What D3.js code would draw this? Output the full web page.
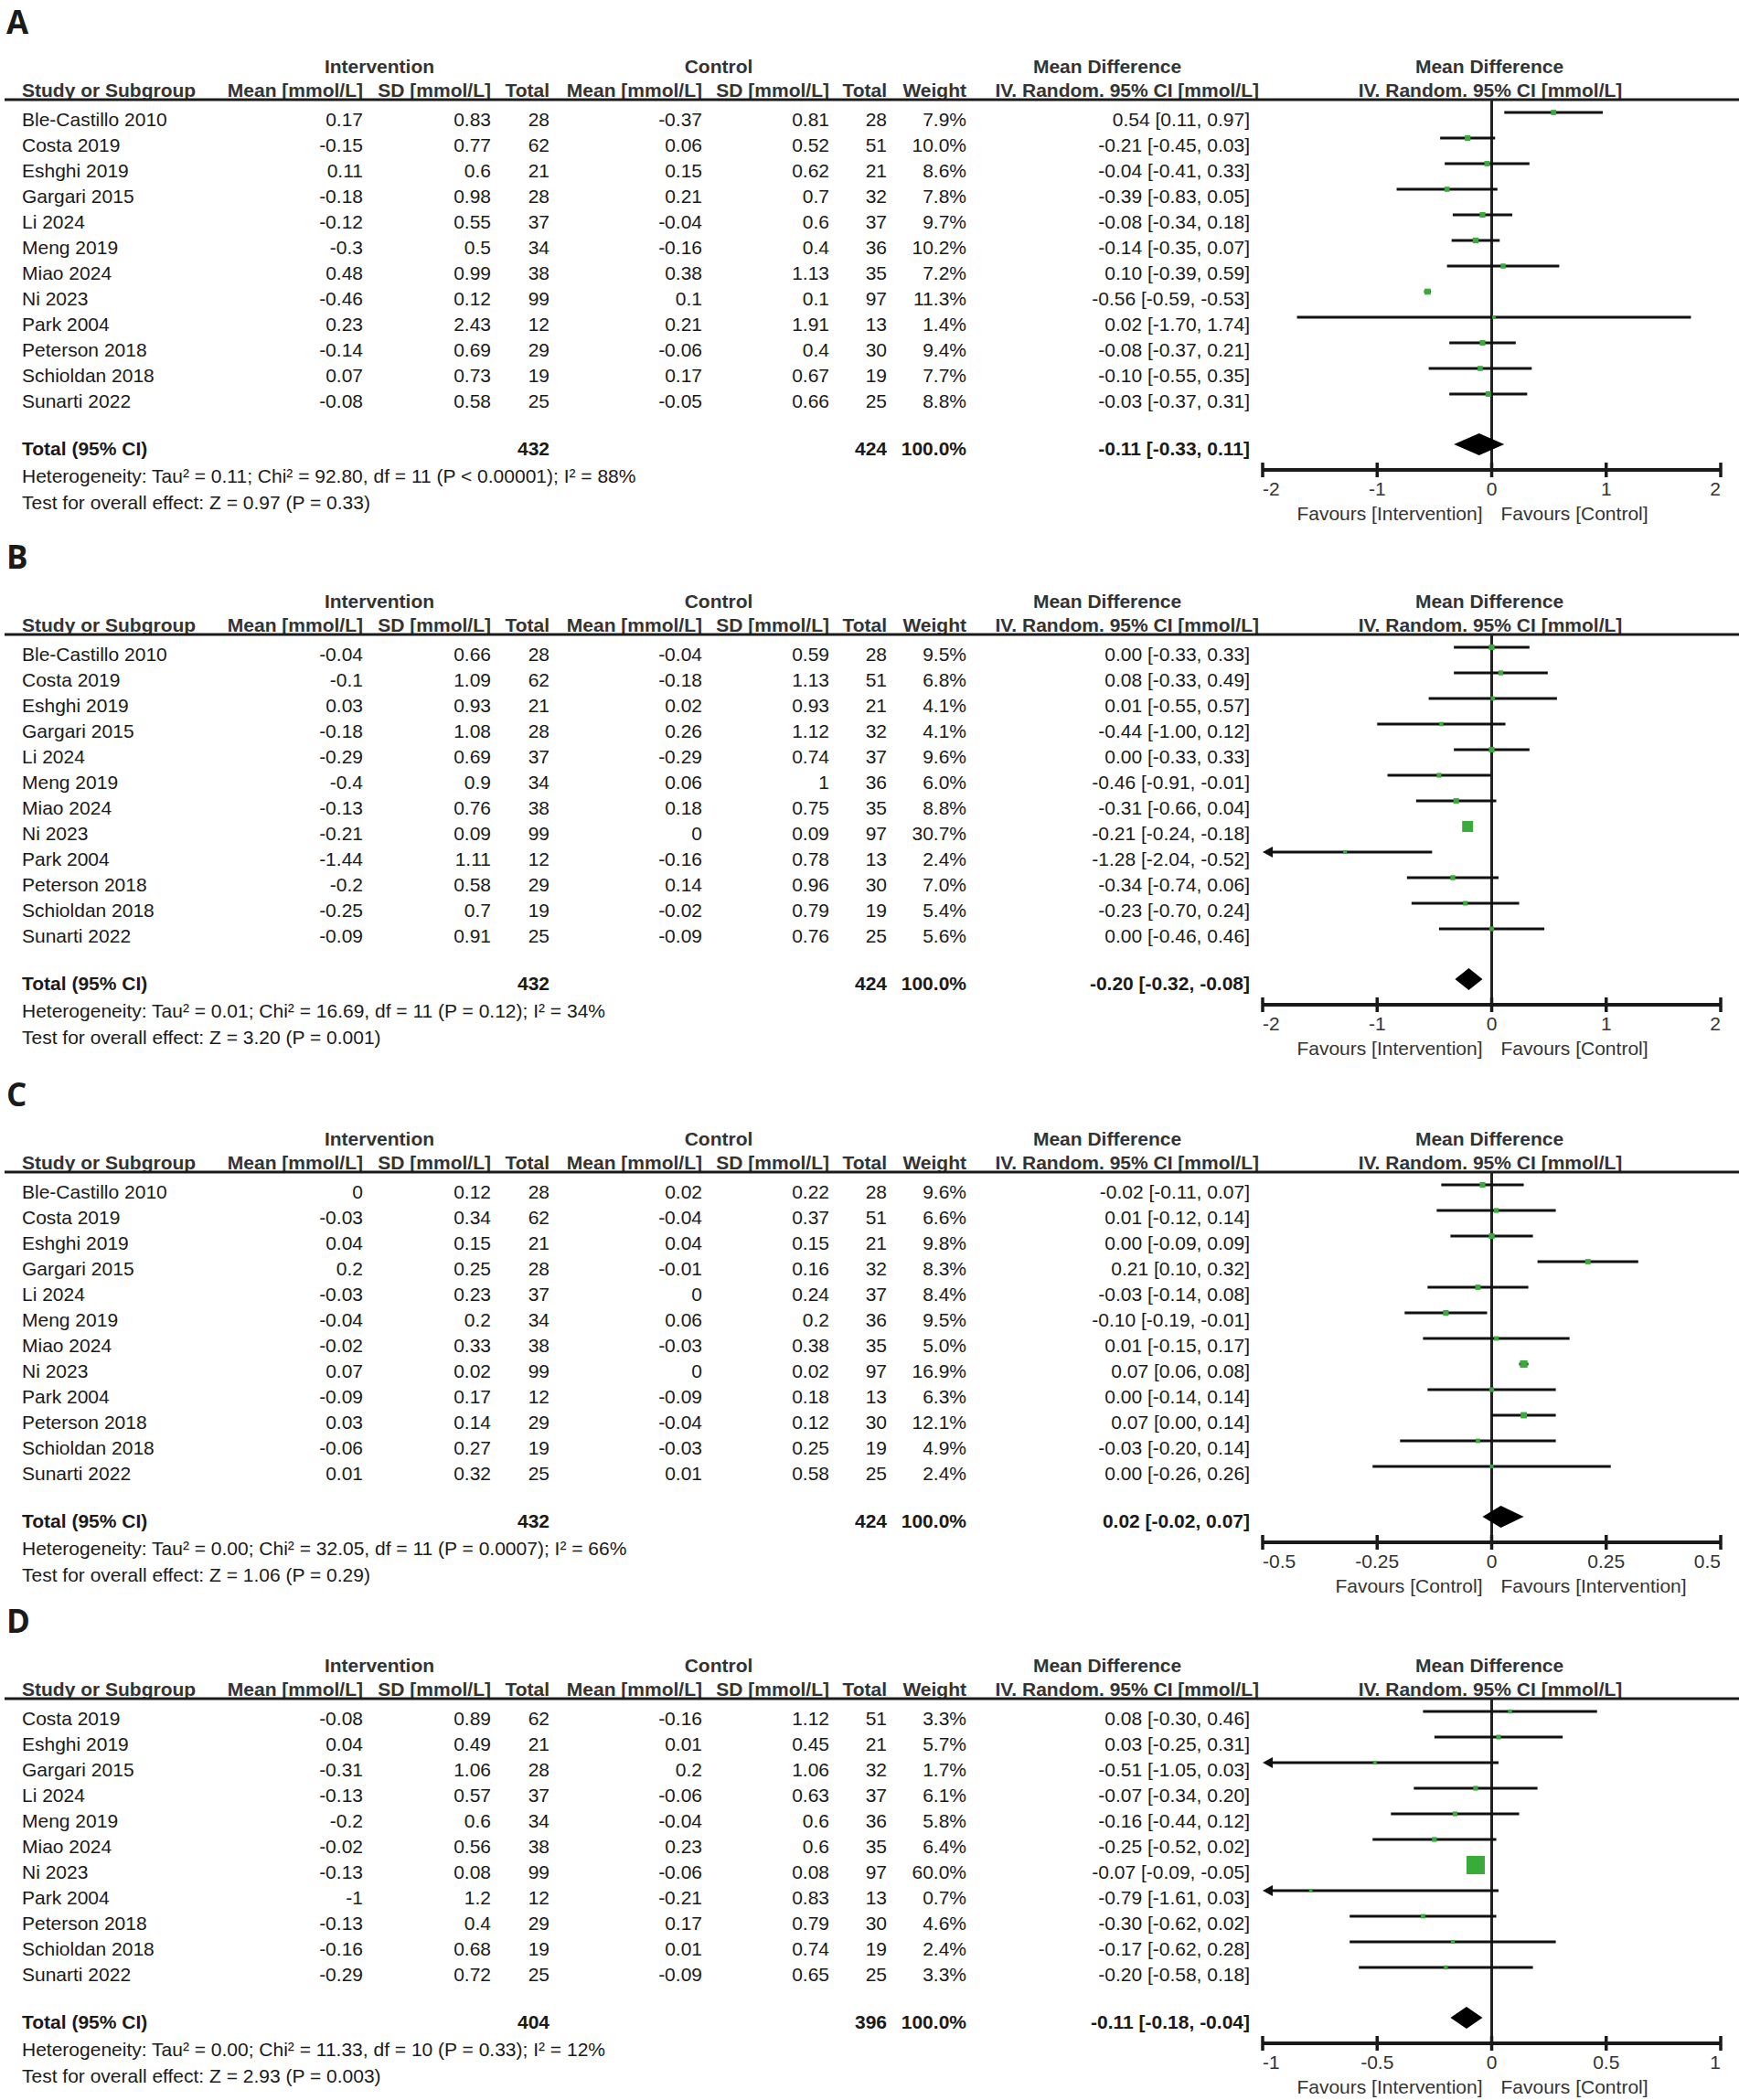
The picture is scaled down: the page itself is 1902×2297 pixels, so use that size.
<!DOCTYPE html>
<meta charset="utf-8">
<script src="https://d3js.org/d3.v7.min.js"></script>
<style>
  body { margin: 0; background: #fff; }
  text { font-family: "Liberation Sans", Arial, sans-serif; }
</style>
<div id="chart"></div>
<script>
// study names
const studies = ["Ble-Castillo 2010", "Costa 2019", "Eshghi 2019", "Gargari 2015", "Li 2024",
  "Meng 2019", "Miao 2024", "Ni 2023", "Park 2004", "Peterson 2018", "Schioldan 2018", "Sunarti 2022"];
const studiesD = studies.slice(1);

// each row: int mean, int SD, int total, ctl mean, ctl SD, ctl total, weight %, MD, lower, upper
const rowsA = [
  [0.17, 0.83, 28, -0.37, 0.81, 28, 7.9, 0.54, 0.11, 0.97],
  [-0.15, 0.77, 62, 0.06, 0.52, 51, 10.0, -0.21, -0.45, 0.03],
  [0.11, 0.6, 21, 0.15, 0.62, 21, 8.6, -0.04, -0.41, 0.33],
  [-0.18, 0.98, 28, 0.21, 0.7, 32, 7.8, -0.39, -0.83, 0.05],
  [-0.12, 0.55, 37, -0.04, 0.6, 37, 9.7, -0.08, -0.34, 0.18],
  [-0.3, 0.5, 34, -0.16, 0.4, 36, 10.2, -0.14, -0.35, 0.07],
  [0.48, 0.99, 38, 0.38, 1.13, 35, 7.2, 0.10, -0.39, 0.59],
  [-0.46, 0.12, 99, 0.1, 0.1, 97, 11.3, -0.56, -0.59, -0.53],
  [0.23, 2.43, 12, 0.21, 1.91, 13, 1.4, 0.02, -1.70, 1.74],
  [-0.14, 0.69, 29, -0.06, 0.4, 30, 9.4, -0.08, -0.37, 0.21],
  [0.07, 0.73, 19, 0.17, 0.67, 19, 7.7, -0.10, -0.55, 0.35],
  [-0.08, 0.58, 25, -0.05, 0.66, 25, 8.8, -0.03, -0.37, 0.31]
];
const rowsB = [
  [-0.04, 0.66, 28, -0.04, 0.59, 28, 9.5, 0.00, -0.33, 0.33],
  [-0.1, 1.09, 62, -0.18, 1.13, 51, 6.8, 0.08, -0.33, 0.49],
  [0.03, 0.93, 21, 0.02, 0.93, 21, 4.1, 0.01, -0.55, 0.57],
  [-0.18, 1.08, 28, 0.26, 1.12, 32, 4.1, -0.44, -1.00, 0.12],
  [-0.29, 0.69, 37, -0.29, 0.74, 37, 9.6, 0.00, -0.33, 0.33],
  [-0.4, 0.9, 34, 0.06, 1, 36, 6.0, -0.46, -0.91, -0.01],
  [-0.13, 0.76, 38, 0.18, 0.75, 35, 8.8, -0.31, -0.66, 0.04],
  [-0.21, 0.09, 99, 0, 0.09, 97, 30.7, -0.21, -0.24, -0.18],
  [-1.44, 1.11, 12, -0.16, 0.78, 13, 2.4, -1.28, -2.04, -0.52],
  [-0.2, 0.58, 29, 0.14, 0.96, 30, 7.0, -0.34, -0.74, 0.06],
  [-0.25, 0.7, 19, -0.02, 0.79, 19, 5.4, -0.23, -0.70, 0.24],
  [-0.09, 0.91, 25, -0.09, 0.76, 25, 5.6, 0.00, -0.46, 0.46]
];
const rowsC = [
  [0, 0.12, 28, 0.02, 0.22, 28, 9.6, -0.02, -0.11, 0.07],
  [-0.03, 0.34, 62, -0.04, 0.37, 51, 6.6, 0.01, -0.12, 0.14],
  [0.04, 0.15, 21, 0.04, 0.15, 21, 9.8, 0.00, -0.09, 0.09],
  [0.2, 0.25, 28, -0.01, 0.16, 32, 8.3, 0.21, 0.10, 0.32],
  [-0.03, 0.23, 37, 0, 0.24, 37, 8.4, -0.03, -0.14, 0.08],
  [-0.04, 0.2, 34, 0.06, 0.2, 36, 9.5, -0.10, -0.19, -0.01],
  [-0.02, 0.33, 38, -0.03, 0.38, 35, 5.0, 0.01, -0.15, 0.17],
  [0.07, 0.02, 99, 0, 0.02, 97, 16.9, 0.07, 0.06, 0.08],
  [-0.09, 0.17, 12, -0.09, 0.18, 13, 6.3, 0.00, -0.14, 0.14],
  [0.03, 0.14, 29, -0.04, 0.12, 30, 12.1, 0.07, 0.00, 0.14],
  [-0.06, 0.27, 19, -0.03, 0.25, 19, 4.9, -0.03, -0.20, 0.14],
  [0.01, 0.32, 25, 0.01, 0.58, 25, 2.4, 0.00, -0.26, 0.26]
];
const rowsD = [
  [-0.08, 0.89, 62, -0.16, 1.12, 51, 3.3, 0.08, -0.30, 0.46],
  [0.04, 0.49, 21, 0.01, 0.45, 21, 5.7, 0.03, -0.25, 0.31],
  [-0.31, 1.06, 28, 0.2, 1.06, 32, 1.7, -0.51, -1.05, 0.03],
  [-0.13, 0.57, 37, -0.06, 0.63, 37, 6.1, -0.07, -0.34, 0.20],
  [-0.2, 0.6, 34, -0.04, 0.6, 36, 5.8, -0.16, -0.44, 0.12],
  [-0.02, 0.56, 38, 0.23, 0.6, 35, 6.4, -0.25, -0.52, 0.02],
  [-0.13, 0.08, 99, -0.06, 0.08, 97, 60.0, -0.07, -0.09, -0.05],
  [-1, 1.2, 12, -0.21, 0.83, 13, 0.7, -0.79, -1.61, 0.03],
  [-0.13, 0.4, 29, 0.17, 0.79, 30, 4.6, -0.30, -0.62, 0.02],
  [-0.16, 0.68, 19, 0.01, 0.74, 19, 2.4, -0.17, -0.62, 0.28],
  [-0.29, 0.72, 25, -0.09, 0.65, 25, 3.3, -0.20, -0.58, 0.18]
];

// totals: int total, ctl total, MD, lower, upper
const totalA = [432, 424, -0.11, -0.33, 0.11];
const totalB = [432, 424, -0.20, -0.32, -0.08];
const totalC = [432, 424, 0.02, -0.02, 0.07];
const totalD = [404, 396, -0.11, -0.18, -0.04];

const hetA = ["Heterogeneity: Tau\u00b2 = 0.11; Chi\u00b2 = 92.80, df = 11 (P < 0.00001); I\u00b2 = 88%", "Test for overall effect: Z = 0.97 (P = 0.33)"];
const hetB = ["Heterogeneity: Tau\u00b2 = 0.01; Chi\u00b2 = 16.69, df = 11 (P = 0.12); I\u00b2 = 34%", "Test for overall effect: Z = 3.20 (P = 0.001)"];
const hetC = ["Heterogeneity: Tau\u00b2 = 0.00; Chi\u00b2 = 32.05, df = 11 (P = 0.0007); I\u00b2 = 66%", "Test for overall effect: Z = 1.06 (P = 0.29)"];
const hetD = ["Heterogeneity: Tau\u00b2 = 0.00; Chi\u00b2 = 11.33, df = 10 (P = 0.33); I\u00b2 = 12%", "Test for overall effect: Z = 2.93 (P = 0.003)"];

const ticksA = [-2, -1, 0, 1, 2];
const ticksB = [-2, -1, 0, 1, 2];
const ticksC = [-0.5, -0.25, 0, 0.25, 0.5];
const ticksD = [-1, -0.5, 0, 0.5, 1];

const favoursA = ["Favours [Intervention]", "Favours [Control]"];
const favoursB = ["Favours [Intervention]", "Favours [Control]"];
const favoursC = ["Favours [Control]", "Favours [Intervention]"];
const favoursD = ["Favours [Intervention]", "Favours [Control]"];

const groupHeaders = ["Intervention", "Control", "Mean Difference", "Mean Difference"];
const colHeaders = ["Mean [mmol/L]", "SD [mmol/L]", "Total", "Mean [mmol/L]", "SD [mmol/L]", "Total", "Weight", "IV. Random. 95% CI [mmol/L]"];
const plotHeader = "IV. Random. 95% CI [mmol/L]";

const panels = [
  {letter: "A", names: studies, rows: rowsA, total: totalA, het: hetA, ticks: ticksA, fav: favoursA, top: 0},
  {letter: "B", names: studies, rows: rowsB, total: totalB, het: hetB, ticks: ticksB, fav: favoursB, top: 585},
  {letter: "C", names: studies, rows: rowsC, total: totalC, het: hetC, ticks: ticksC, fav: favoursC, top: 1173},
  {letter: "D", names: studiesD, rows: rowsD, total: totalD, het: hetD, ticks: ticksD, fav: favoursD, top: 1749}
];

const width = 1902, height = 2297;
const ink = "#1a1a1a", green = "#38ab3a";
// right edges of the table columns
const colRight = [397, 537, 601, 768, 907, 970, 1057, 1367];
const fs = 21, rowH = 28;

const svg = d3.select("#chart").append("svg")
  .attr("width", width).attr("height", height);

const boxSize = d3.scaleLinear().domain([0, 60]).range([3.5, 20]);
const f2 = v => v.toFixed(2);

function drawPanel(p) {
  const g = svg.append("g").attr("transform", "translate(0," + p.top + ")");
  const n = p.rows.length;
  const x = d3.scaleLinear().domain([p.ticks[0], p.ticks[p.ticks.length - 1]]).range([1381, 1882]);
  const rowY = i => 138 + rowH * i;
  const totalY = rowY(n - 1) + 52;
  const axisY = totalY + 16;

  g.append("text").attr("x", 7).attr("y", 37)
    .style("font-family", "'Open Sans', 'Liberation Sans', sans-serif")
    .attr("font-weight", 700).attr("font-size", 35).attr("fill", ink).text(p.letter);

  // group headers
  const gx = [415, 786, 1211, 1629];
  g.selectAll(".gh").data(groupHeaders).enter().append("text")
    .attr("x", (d, i) => gx[i]).attr("y", 80).attr("text-anchor", "middle")
    .attr("font-size", fs).attr("font-weight", 700).attr("fill", "#333").text(d => d);

  // column headers
  g.append("text").attr("x", 24).attr("y", 106).attr("font-size", fs).attr("font-weight", 700)
    .attr("fill", "#333").text("Study or Subgroup");
  g.selectAll(".ch").data(colHeaders).enter().append("text")
    .attr("x", (d, i) => i === 7 ? colRight[i] + 10 : colRight[i]).attr("y", 106)
    .attr("text-anchor", "end").attr("font-size", fs).attr("font-weight", 700)
    .attr("fill", "#333").text(d => d);
  g.append("text").attr("x", 1630).attr("y", 106).attr("text-anchor", "middle")
    .attr("font-size", fs).attr("font-weight", 700).attr("fill", "#333").text(plotHeader);

  g.append("line").attr("x1", 5).attr("x2", width).attr("y1", 109).attr("y2", 109)
    .attr("stroke", ink).attr("stroke-width", 3);

  // rows of the table
  p.rows.forEach((r, i) => {
    const cells = [r[0], r[1], r[2], r[3], r[4], r[5], r[6].toFixed(1) + "%",
      f2(r[7]) + " [" + f2(r[8]) + ", " + f2(r[9]) + "]"];
    g.append("text").attr("x", 24).attr("y", rowY(i)).attr("font-size", fs)
      .attr("fill", ink).text(p.names[i]);
    cells.forEach((c, j) => {
      g.append("text").attr("x", colRight[j]).attr("y", rowY(i)).attr("text-anchor", "end")
        .attr("font-size", fs).attr("fill", ink).text(String(c));
    });
  });

  // total row
  const t = p.total;
  g.append("text").attr("x", 24).attr("y", totalY).attr("font-size", fs).attr("font-weight", 700)
    .attr("fill", ink).text("Total (95% CI)");
  [[2, t[0]], [5, t[1]], [6, "100.0%"], [7, f2(t[2]) + " [" + f2(t[3]) + ", " + f2(t[4]) + "]"]]
    .forEach(([j, c]) => {
      g.append("text").attr("x", colRight[j]).attr("y", totalY).attr("text-anchor", "end")
        .attr("font-size", fs).attr("font-weight", 700).attr("fill", ink).text(String(c));
    });
  p.het.forEach((s, k) => {
    g.append("text").attr("x", 24).attr("y", totalY + 29.5 * (k + 1)).attr("font-size", fs)
      .attr("fill", ink).text(s);
  });

  // zero line
  g.append("line").attr("x1", x(0)).attr("x2", x(0)).attr("y1", 108).attr("y2", axisY)
    .attr("stroke", "#222").attr("stroke-width", 3);

  // CI lines, arrows and boxes
  const [lo, hi] = x.domain();
  p.rows.forEach((r, i) => {
    const cy = rowY(i) - 15;
    const a = Math.max(r[8], lo), b = Math.min(r[9], hi);
    g.append("line").attr("x1", x(a) + (r[8] < lo ? 8 : 0)).attr("x2", x(b) - (r[9] > hi ? 8 : 0))
      .attr("y1", cy).attr("y2", cy).attr("stroke", "#111").attr("stroke-width", 3);
    if (r[8] < lo) {
      const tip = x(lo);
      g.append("path").attr("d", `M${tip},${cy}L${tip + 11},${cy - 6}L${tip + 11},${cy + 6}Z`).attr("fill", "#111");
    }
    if (r[9] > hi) {
      const tip = x(hi);
      g.append("path").attr("d", `M${tip},${cy}L${tip - 11},${cy - 6}L${tip - 11},${cy + 6}Z`).attr("fill", "#111");
    }
    const s = boxSize(r[6]);
    g.append("rect").attr("x", x(r[7]) - s / 2).attr("y", cy - s / 2)
      .attr("width", s).attr("height", s).attr("fill", green);
  });

  // total diamond
  const dy = totalY - 12;
  g.append("path")
    .attr("d", `M${x(t[3])},${dy}L${x(t[2])},${dy - 12}L${x(t[4])},${dy}L${x(t[2])},${dy + 12}Z`)
    .attr("fill", "#000");

  // axis
  const axis = g.append("g").attr("transform", "translate(0," + axisY + ")");
  axis.append("line").attr("x1", x(lo)).attr("x2", x(hi)).attr("stroke", ink).attr("stroke-width", 4);
  axis.selectAll(".tk").data(p.ticks).enter().append("line")
    .attr("x1", d => x(d)).attr("x2", d => x(d)).attr("y1", -8).attr("y2", 8)
    .attr("stroke", ink).attr("stroke-width", 3.5);
  axis.selectAll(".tl").data(p.ticks).enter().append("text")
    .attr("x", d => x(d)).attr("y", 28)
    .attr("text-anchor", (d, i) => i === 0 ? "start" : (i === p.ticks.length - 1 ? "end" : "middle"))
    .attr("font-size", fs).attr("fill", "#333").text(d => String(d));
  axis.append("text").attr("x", x(0) - 10).attr("y", 55).attr("text-anchor", "end")
    .attr("font-size", fs).attr("fill", "#333").text(p.fav[0]);
  axis.append("text").attr("x", x(0) + 10).attr("y", 55).attr("text-anchor", "start")
    .attr("font-size", fs).attr("fill", "#333").text(p.fav[1]);
}

panels.forEach(drawPanel);
</script>
